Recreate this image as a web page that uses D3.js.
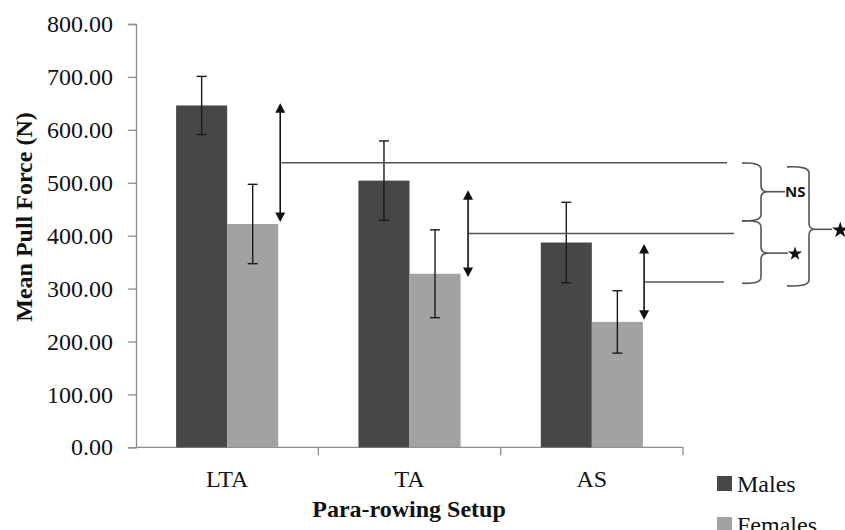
<!DOCTYPE html>
<html><head><meta charset="utf-8">
<script src="https://cdn.jsdelivr.net/npm/d3@7"></script>
<style>body{margin:0;background:#fff}svg{display:block}</style>
</head><body>
<script>
// ---- data ----
const categories = ["LTA", "TA", "AS"];
const series = ["Males", "Females"];
const malesMean = [646, 504, 387];
const malesSD = [55, 75, 76];
const femalesMean = [422, 328, 237];
const femalesSD = [75, 83, 59];
const yTicks = [0, 100, 200, 300, 400, 500, 600, 700, 800];
// annotation arrows (value span between bars) and comparison lines
const arrowTop = [650, 486, 384];
const arrowBottom = [426, 322, 241];
const lineEndValuesX = [727, 734, 724];
const braceLabels = ["NS", "★", "★"];

const W = 845, H = 530;
const colors = {Males: "#474747", Females: "#a2a2a2"};
const svg = d3.select("body").append("svg").attr("width", W).attr("height", H)
  .style("font-family", "'Liberation Serif','Times New Roman',serif");

const x0 = d3.scaleBand().domain(categories).range([136, 683]).paddingInner(0.44).paddingOuter(0.22);
const x1 = d3.scaleBand().domain(series).range([0, x0.bandwidth()]);
const y = d3.scaleLinear().domain([0, 800]).range([447.3, 24]);

// axes
const axisColor = "#8c8c8c";
const yAx = svg.append("g").attr("transform", "translate(136,0)")
  .call(d3.axisLeft(y).tickValues(yTicks).tickFormat(d3.format(".2f")).tickSizeOuter(0).tickSize(8).tickPadding(15));
yAx.select(".domain").attr("stroke", axisColor).attr("stroke-width", 1.3);
yAx.selectAll(".tick line").attr("stroke", axisColor).attr("stroke-width", 1.3);
yAx.selectAll("text").attr("font-size", 24).attr("fill", "#111").attr("font-family", "'Liberation Serif',serif");

const xAx = svg.append("g").attr("transform", `translate(0,${y(0)})`);
xAx.append("line").attr("x1", 136).attr("x2", 683).attr("stroke", axisColor).attr("stroke-width", 1.3);
const step = x0.step();
d3.range(1, categories.length + 1).forEach(i => {
  const xx = 136 + i * step;
  xAx.append("line").attr("x1", xx).attr("x2", xx).attr("y1", 0).attr("y2", 8)
    .attr("stroke", axisColor).attr("stroke-width", 1.3);
});
xAx.selectAll("text.cat").data(categories).join("text").attr("class", "cat")
  .attr("x", d => x0(d) + x0.bandwidth() / 2).attr("y", 39.5)
  .attr("text-anchor", "middle").attr("font-size", 24).attr("fill", "#111").text(d => d);

// bars
const rows = categories.map((c, i) => ({c, vals: [
  {s: "Males", v: malesMean[i], e: malesSD[i]},
  {s: "Females", v: femalesMean[i], e: femalesSD[i]}]}));
const g = svg.selectAll("g.grp").data(rows).join("g").attr("class", "grp")
  .attr("transform", d => `translate(${x0(d.c)},0)`);
g.selectAll("rect").data(d => d.vals).join("rect")
  .attr("x", d => x1(d.s)).attr("width", x1.bandwidth())
  .attr("y", d => y(d.v)).attr("height", d => y(0) - y(d.v)).attr("fill", d => colors[d.s]);
// error bars
const eb = g.selectAll("g.eb").data(d => d.vals).join("g").attr("class", "eb")
  .attr("stroke", "#1a1a1a").attr("stroke-width", 1.4);
eb.append("line").attr("x1", d => x1(d.s) + x1.bandwidth() / 2).attr("x2", d => x1(d.s) + x1.bandwidth() / 2)
  .attr("y1", d => y(d.v + d.e)).attr("y2", d => y(d.v - d.e));
[1, -1].forEach(sg => eb.append("line")
  .attr("x1", d => x1(d.s) + x1.bandwidth() / 2 - 5).attr("x2", d => x1(d.s) + x1.bandwidth() / 2 + 5)
  .attr("y1", d => y(d.v + sg * d.e)).attr("y2", d => y(d.v + sg * d.e)));

// arrows and comparison lines
const arrowOffset = [2, 7.5, 1.2];
const ann = svg.append("g");
categories.forEach((c, i) => {
  const ax = x0(c) + x0.bandwidth() + arrowOffset[i];
  const yt = y(arrowTop[i]), yb = y(arrowBottom[i]);
  ann.append("line").attr("x1", ax).attr("x2", ax).attr("y1", yt + 6).attr("y2", yb - 6)
    .attr("stroke", "#111").attr("stroke-width", 1.6);
  ann.append("path").attr("d", `M${ax},${yt}L${ax - 5},${yt + 9.5}L${ax + 5},${yt + 9.5}Z`).attr("fill", "#111");
  ann.append("path").attr("d", `M${ax},${yb}L${ax - 5},${yb - 9.5}L${ax + 5},${yb - 9.5}Z`).attr("fill", "#111");
  const ym = (yt + yb) / 2;
  ann.append("line").attr("x1", ax + 1).attr("x2", lineEndValuesX[i]).attr("y1", ym).attr("y2", ym)
    .attr("stroke", "#555").attr("stroke-width", 1.5);
});

// braces
function brace(x0b, xs, xt, y0, y1, ym) {
  const r = 6;
  return `M${x0b},${y0}Q${xs},${y0 - 1} ${xs},${y0 + r}L${xs},${ym - r}Q${xs},${ym} ${xt},${ym}` +
    `Q${xs},${ym} ${xs},${ym + r}L${xs},${y1 - r}Q${xs},${y1 + 1} ${x0b},${y1}`;
}
const braces = [
  {x0: 742, xs: 761, xt: 768, top: 537, bot: 428, mid: 483, lx: 785},
  {x0: 742, xs: 761, xt: 768, top: 428, bot: 310, mid: 367, lx: 788},
  {x0: 787, xs: 809, xt: 815, top: 530, bot: 305, mid: 412, lx: 832}
];
braces.forEach((b, i) => {
  const ym = y(b.mid);
  ann.append("path").attr("d", brace(b.x0, b.xs, b.xt, y(b.top), y(b.bot), ym))
    .attr("fill", "none").attr("stroke", "#555").attr("stroke-width", 1.6);
  ann.append("line").attr("x1", b.xt).attr("x2", b.lx).attr("y1", ym).attr("y2", ym)
    .attr("stroke", "#555").attr("stroke-width", 1.6);
  if (braceLabels[i] === "NS") {
    ann.append("text").attr("x", b.lx).attr("y", ym + 5.5).attr("font-family", "'Open Sans',sans-serif")
      .attr("font-weight", "bold").attr("font-size", 15).attr("fill", "#111").text("NS");
  } else {
    const sz = i === 2 ? 85 : 62;
    const r = Math.sqrt(sz * 0.8908130915292852);
    ann.append("path").attr("d", d3.symbol(d3.symbolStar, sz)())
      .attr("transform", `translate(${b.lx + r * 0.95},${ym + r * 0.1})`).attr("fill", "#111")
      .append("title").text(braceLabels[i]);
  }
});

// axis titles
svg.append("text").attr("transform", "translate(32,217) rotate(-90)").attr("text-anchor", "middle")
  .attr("font-size", 24).attr("font-weight", "bold").attr("fill", "#111").text("Mean Pull Force (N)");
svg.append("text").attr("x", 409).attr("y", 517).attr("text-anchor", "middle")
  .attr("font-size", 24).attr("font-weight", "bold").attr("fill", "#111").text("Para-rowing Setup");

// legend
const lg = svg.append("g").attr("transform", "translate(717,476)");
series.forEach((s, i) => {
  const gi = lg.append("g").attr("transform", `translate(0,${i * 41})`);
  gi.append("rect").attr("width", 15).attr("height", 15).attr("fill", colors[s]);
  gi.append("text").attr("x", 20).attr("y", 15.5).attr("font-size", 24).attr("fill", "#111").text(s);
});
</script>
</body></html>
